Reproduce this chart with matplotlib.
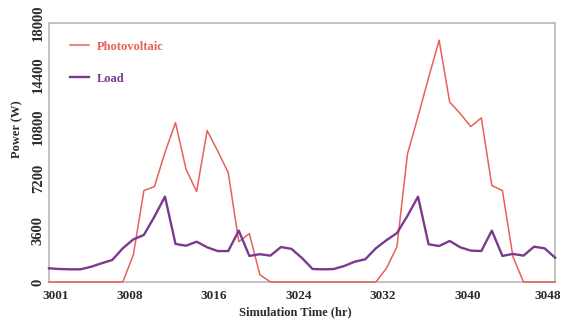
"""
Photovoltaic output vs. load over two simulated days (hours 3001-3049).
"""

import matplotlib
matplotlib.use("Agg")
import matplotlib.pyplot as plt
from matplotlib.transforms import ScaledTranslation


HOURS = list(range(3001, 3050))

PV_W = [
    0, 0, 0, 0, 0, 0, 0, 0,
    1880, 6350, 6630, 9000, 11070, 7830, 6280, 10520, 9100, 7600, 2800, 3360, 500,
    0, 0, 0, 0, 0, 0, 0, 0, 0, 0, 0,
    950, 2450, 8900, 11500, 14200, 16800, 12500, 11700, 10800, 11400, 6700, 6350, 1760,
    0, 0, 0, 0,
]

LOAD_W = [
    950, 900, 880, 880, 1060, 1300, 1530, 2340, 2960, 3270, 4540, 5930,
    2640, 2520, 2800, 2410, 2150, 2150, 3570, 1810, 1930, 1830, 2430, 2300,
    1660, 900, 880, 900, 1110, 1410, 1580, 2340, 2900, 3400, 4600, 5930,
    2620, 2500, 2850, 2410, 2180, 2150, 3570, 1810, 1950, 1830, 2450, 2340,
    1690,
]

X_TICKS = [3001, 3008, 3016, 3024, 3032, 3040, 3048]
Y_TICKS = [0, 3600, 7200, 10800, 14400, 18000]

PV_COLOR = "#e8605a"
LOAD_COLOR = "#7a3b8f"
SPINE_COLOR = "#bdbdbd"
TEXT_COLOR = "#2b2b2b"
FONT = "Liberation Serif"


def main():
    fig = plt.figure(figsize=(5.63, 3.23), dpi=100)
    ax = fig.add_axes([0.087, 0.127, 0.899, 0.802])

    ax.plot(HOURS, PV_W, color=PV_COLOR, linewidth=1.1, label="Photovoltaic",
            clip_on=False, zorder=3)
    ax.plot(HOURS, LOAD_W, color=LOAD_COLOR, linewidth=1.7, label="Load",
            clip_on=False, zorder=4)

    ax.set_xlim(3001, 3049)
    ax.set_ylim(0, 18000)

    ax.set_xticks(X_TICKS)
    ax.set_yticks(Y_TICKS)
    ax.set_xticklabels([str(t) for t in X_TICKS], fontfamily=FONT,
                       fontweight="bold", fontsize=9.5)
    ax.set_yticklabels([str(t) for t in Y_TICKS], fontfamily=FONT,
                       fontweight="bold", fontsize=10.5, rotation=90, va="center")
    ax.tick_params(axis="both", length=0, colors=TEXT_COLOR)
    ax.tick_params(axis="x", pad=6)
    ax.tick_params(axis="y", pad=3)

    # the scanned labels sit a little right of their ticks
    labels = ax.get_xticklabels()
    for k, lbl in enumerate(labels):
        dx = 3 if k == len(labels) - 1 else 7
        shift = ScaledTranslation(dx / 100, 0, fig.dpi_scale_trans)
        lbl.set_transform(lbl.get_transform() + shift)

    for side in ["left", "right", "top", "bottom"]:
        ax.spines[side].set_color(SPINE_COLOR)
        ax.spines[side].set_linewidth(1.3)

    ax.set_xlabel("Simulation Time (hr)", fontfamily=FONT, fontweight="bold",
                  fontsize=9, color=TEXT_COLOR)
    ax.set_ylabel("Power (W)", fontfamily=FONT, fontweight="bold",
                  fontsize=9, color=TEXT_COLOR)
    ax.xaxis.set_label_coords(0.486, -0.095)
    ax.yaxis.set_label_coords(-0.05, 0.59)

    ax.legend(loc="upper left", bbox_to_anchor=(0.02, 0.975), frameon=False,
              handlelength=1.5, handletextpad=0.6, labelspacing=1.6,
              labelcolor="linecolor",
              prop={"family": FONT, "weight": "bold", "size": 9})

    fig.savefig("out.png", dpi=100)
    plt.close(fig)


if __name__ == "__main__":
    main()
